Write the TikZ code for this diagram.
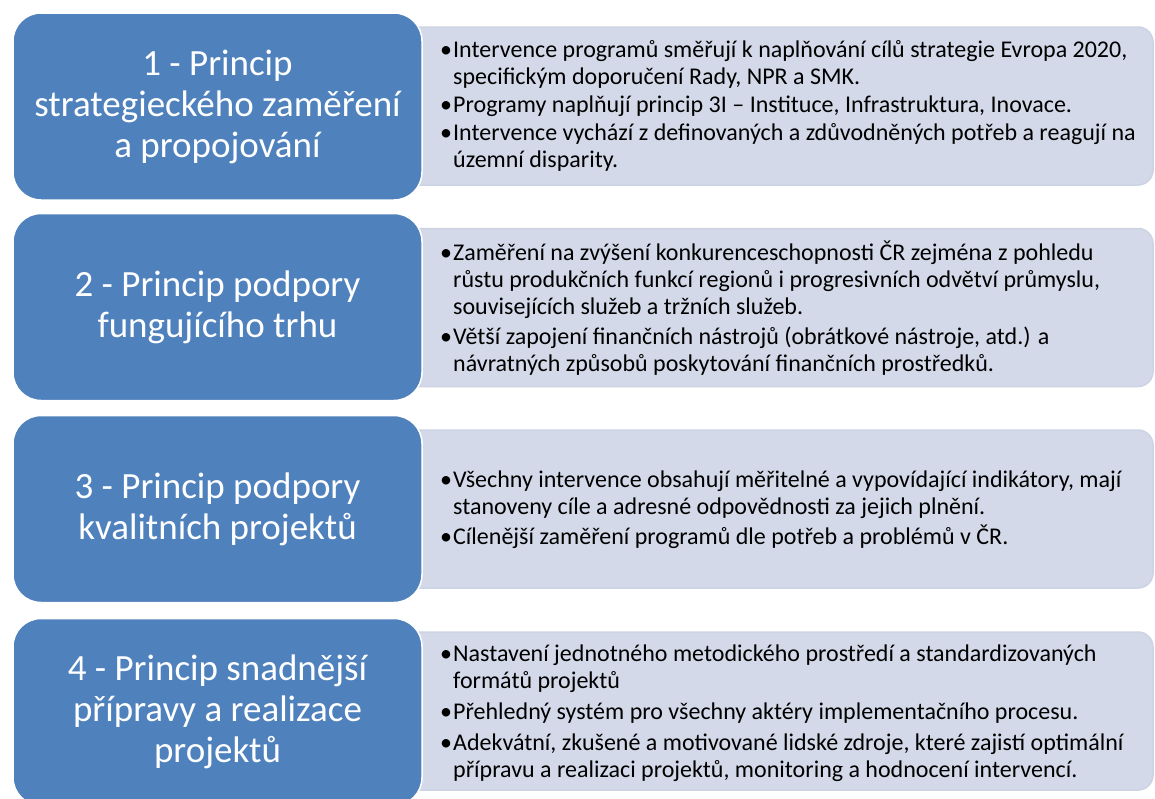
\documentclass[tikz,border=0pt]{standalone}
\usepackage{fontspec}
\setmainfont{Carlito}
\definecolor{boxblue}{HTML}{4F81BD}
\definecolor{boxgrey}{HTML}{D3D9E8}
\definecolor{greyedge}{HTML}{CCD3E4}
\newcommand{\bl}{\makebox[13pt][l]{•}}
\newcommand{\ind}{\hspace*{13pt}}
\begin{document}
\begin{tikzpicture}[x=1pt,y=-1pt,
  bluebox/.style={fill=boxblue, draw=white, line width=1.5pt, rounded corners=28pt,
    minimum width=409pt, minimum height=187pt, inner sep=0pt, text=white, align=center,
    font=\fontsize{37}{41}\selectfont},
  greybox/.style={fill=boxgrey, draw=greyedge, line width=1.5pt, rounded corners=15pt,
    minimum width=753pt, minimum height=158pt, inner sep=0pt},
  bodytext/.style={anchor=west, align=left, inner sep=0pt, text=black,
    font=\fontsize{24}{27}\selectfont}]
\useasboundingbox (0,0) rectangle (1155,798);
% grey panels
\node[greybox] (g1) at (776.5,106) {};
\node[greybox] (g2) at (776.5,307.5) {};
\node[greybox] (g3) at (776.5,509) {};
\node[greybox] (g4) at (776.5,711) {};
% blue boxes
\node[bluebox] (b1) at (217.5,106.5) {1 - Princip\\strategieckého zaměření\\a propojování};
\node[bluebox] (b2) at (217.5,307) {2 - Princip podpory\\fungujícího trhu};
\node[bluebox] (b3) at (217.5,509) {3 - Princip podpory\\kvalitních projektů};
\node[bluebox] (b4) at (217.5,712) {4 - Princip snadnější\\přípravy a realizace\\projektů};
% texts
\node[bodytext] (t1) at (440,106) {\bl Intervence programů směřují k naplňování cílů strategie Evropa 2020,\\
\ind specifickým doporučení Rady, NPR a SMK.\\[1pt]
\bl Programy naplňují princip 3I – Instituce, Infrastruktura, Inovace.\\[1pt]
\bl Intervence vychází z definovaných a zdůvodněných potřeb a reagují na\\
\ind územní disparity.};
\node[bodytext] (t2) at (440,308) {\bl Zaměření na zvýšení konkurenceschopnosti ČR zejména z pohledu\\
\ind růstu produkčních funkcí regionů i progresivních odvětví průmyslu,\\
\ind souvisejících služeb a tržních služeb.\\[3pt]
\bl Větší zapojení finančních nástrojů (obrátkové nástroje, atd.) a\\
\ind návratných způsobů poskytování finančních prostředků.};
\node[bodytext] (t3) at (440,510) {\bl Všechny intervence obsahují měřitelné a vypovídající indikátory, mají\\
\ind stanoveny cíle a adresné odpovědnosti za jejich plnění.\\[3pt]
\bl Cílenější zaměření programů dle potřeb a problémů v ČR.};
\node[bodytext] (t4) at (440,713) {\bl Nastavení jednotného metodického prostředí a standardizovaných\\
\ind formátů projektů\\[4pt]
\bl Přehledný systém pro všechny aktéry implementačního procesu.\\[4pt]
\bl Adekvátní, zkušené a motivované lidské zdroje, které zajistí optimální\\
\ind přípravu a realizaci projektů, monitoring a hodnocení intervencí.};
\end{tikzpicture}
\end{document}
